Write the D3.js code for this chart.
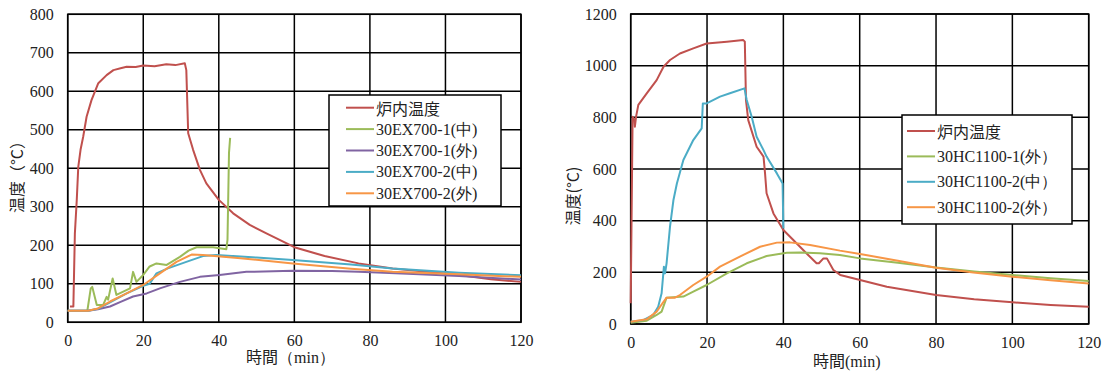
<!DOCTYPE html>
<html>
<head>
<meta charset="utf-8">
<script src="https://cdn.jsdelivr.net/npm/d3@7"></script>
<style>
  body { margin: 0; background: #fff; }
  svg { display: block; }
  svg text.num { font-family: "Times New Roman", "Liberation Serif", "DejaVu Serif", serif !important; }
  svg text.jp, svg tspan.jp { font-family: "Noto Sans CJK JP", sans-serif !important; }
  svg tspan.num { font-family: "Times New Roman", "Liberation Serif", serif !important; }
</style>
</head>
<body>
<svg id="chart" width="1105" height="373" viewBox="0 0 1105 373"></svg>
<script>
// ---- data: [minutes, °C] ----
const timeTicks = [0, 20, 40, 60, 80, 100, 120];
const leftTempTicks = [0, 100, 200, 300, 400, 500, 600, 700, 800];
const rightTempTicks = [0, 200, 400, 600, 800, 1000, 1200];

const ex700Furnace = [[0.6,41],[1.5,41],[1.9,231],[2.4,318],[2.8,404],[3.4,448],[4.1,482],[5,534],[6.3,577],
  [8.1,621],[10.3,642],[12.1,655],[14,660],[15.6,664],[18,663],[20,667],[23,665],[26.1,670],[28.5,668],[31,673],
  [31.4,655],[31.9,491],[33.2,448],[35,396],[36.7,361],[40,318],[43.8,283],[48.2,253],[52.6,231],[60,195],
  [68,172],[77,153],[86,140],[95,131],[103.6,123],[112,112],[120,105]];
const ex700_1Mid = [[0,30],[5.2,30],[6.1,88],[6.5,92],[7.7,45],[9.4,45],[10.3,66],[10.7,59],[11.9,114],[12.9,71],
  [16.5,88],[17.3,131],[18.2,105],[20,123],[21.7,145],[23.5,153],[26.2,149],[29.7,170],[32,186],[34.1,195],
  [38.5,195],[42,190],[42.3,214],[42.7,440],[43,479]];
const ex700_1Out = [[0,30],[5.4,30],[8,34],[11.2,41],[14,53],[17.3,67],[20.9,75],[24.4,88],[29.7,105],[35,118],
  [40.2,123],[47.3,131],[59.6,134],[70,133],[77,131],[90,126],[103.6,120],[120,111]];
const ex700_2Mid = [[0,30],[5.4,30],[8,35],[11.2,52],[15.6,75],[20,95],[21.7,100],[23.5,127],[26.5,140],
  [31.4,157],[35.8,172],[39.4,175],[50,168],[59.6,162],[75,150],[86,140],[103.6,129],[120,122]];
const ex700_2Out = [[0,30],[5.4,30],[8,36],[11.2,54],[15.6,75],[20,97],[24.4,127],[28.8,157],[32.8,176],
  [35.8,175],[45,167],[59.6,153],[75,139],[86,131],[103.6,125],[120,118]];

const hc1100Furnace = [[0,80],[0.5,802],[1,790],[1.1,764],[1.4,802],[2,848],[4.2,893],[6.8,944],[8.6,996],
  [10.3,1022],[12.9,1047],[16.4,1067],[19.9,1086],[25.2,1093],[29.5,1099],[29.9,1093],[30.2,867],[30.8,789],
  [33,686],[34.8,648],[35.2,583],[35.6,506],[37.4,428],[40,364],[42.6,325],[46.1,273],[48.7,235],[49.3,235],
  [50.5,254],[51.4,254],[53.1,209],[54.9,190],[60.1,170],[67.1,144],[80,112],[90,96],[100,84],[110,74],[120,67]];
const hc1100_1Out = [[0,5],[4.2,13],[6.8,35],[8.1,48],[9.4,102],[13.8,106],[16.4,125],[19.9,151],[25.2,196],
  [30.4,235],[35.6,263],[40.9,276],[44.4,277],[49.6,274],[54.8,267],[60.1,254],[70,237],[80,219],[90,203],
  [100,190],[110,177],[120,166]];
const hc1100_2Mid = [[0,9],[3.3,15],[5.9,35],[7.2,67],[8.1,119],[8.7,222],[9,196],[9.4,235],[10.3,377],[11.2,480],
  [12.1,544],[13.8,635],[16.4,712],[18.6,757],[18.9,854],[19.9,854],[23.4,880],[26,893],[29.8,912],[30.4,867],
  [31.7,802],[33,725],[34.8,673],[35.6,648],[38.3,583],[39.8,544],[40,370]];
const hc1100_2Out = [[0,9],[4.2,18],[6.8,48],[8.6,86],[9.4,102],[11.6,102],[12.9,112],[16.4,151],[19.9,183],
  [23.4,222],[28.6,261],[33.9,299],[38.3,315],[41.7,316],[47,306],[54.8,284],[60.1,271],[70,245],[80,218],
  [89.8,199],[100,183],[110,169],[120,157]];

const leftSeries = [
  { name: "炉内温度", color: "#C0504D", values: ex700Furnace },
  { name: "30EX700-1(中)", color: "#9BBB59", values: ex700_1Mid },
  { name: "30EX700-1(外)", color: "#8064A2", values: ex700_1Out },
  { name: "30EX700-2(中)", color: "#4BACC6", values: ex700_2Mid },
  { name: "30EX700-2(外)", color: "#F79646", values: ex700_2Out }
];
const rightSeries = [
  { name: "炉内温度", color: "#C0504D", values: hc1100Furnace },
  { name: "30HC1100-1(外）", color: "#9BBB59", values: hc1100_1Out },
  { name: "30HC1100-2(中）", color: "#4BACC6", values: hc1100_2Mid },
  { name: "30HC1100-2(外）", color: "#F79646", values: hc1100_2Out }
];

const svg = d3.select("#chart");

function drawChart(opt) {
  const x = d3.scaleLinear().domain([0, 120]).range([opt.left, opt.right]);
  const y = d3.scaleLinear().domain([0, opt.yMax]).range([opt.bottom, opt.top]);
  const g = svg.append("g");

  // tick labels
  g.append("g")
    .attr("transform", `translate(${opt.left},0)`)
    .call(d3.axisLeft(y).tickValues(opt.yTicks).tickFormat(d3.format("d")).tickSize(0).tickPadding(14))
    .call(a => a.select(".domain").remove())
    .call(a => a.selectAll("text").attr("class", "num").attr("font-size", 16).attr("fill", "#222"));
  g.append("g")
    .attr("transform", `translate(0,${opt.bottom})`)
    .call(d3.axisBottom(x).tickValues(timeTicks).tickFormat(d3.format("d")).tickSize(0).tickPadding(opt.xPad))
    .call(a => a.select(".domain").remove())
    .call(a => a.selectAll("text").attr("class", "num").attr("font-size", 16).attr("fill", "#222"));

  // grid lines
  const grid = g.append("g").attr("stroke", "black").attr("stroke-width", 1.5);
  grid.selectAll("line.h")
    .data(opt.yTicks)
    .join("line")
    .attr("class", "h")
    .attr("x1", opt.left).attr("x2", opt.right)
    .attr("y1", d => y(d)).attr("y2", d => y(d));
  grid.selectAll("line.v")
    .data(timeTicks)
    .join("line")
    .attr("class", "v")
    .attr("x1", d => x(d)).attr("x2", d => x(d))
    .attr("y1", opt.top).attr("y2", opt.bottom);
  g.append("rect")
    .attr("x", opt.left).attr("y", opt.top)
    .attr("width", opt.right - opt.left).attr("height", opt.bottom - opt.top)
    .attr("fill", "none").attr("stroke", "black").attr("stroke-width", 1.5);

  const line = d3.line().x(d => x(d[0])).y(d => y(d[1]));
  g.append("g").selectAll("path")
    .data(opt.series)
    .join("path")
    .attr("d", d => line(d.values))
    .attr("fill", "none")
    .attr("stroke", d => d.color)
    .attr("stroke-width", 2)
    .attr("stroke-linejoin", "round");

  // y title
  g.append("text")
    .attr("class", "jp")
    .attr("transform", `translate(${opt.yTitleX},${opt.yTitleY}) rotate(-90)`)
    .attr("text-anchor", "middle")
    .attr("dominant-baseline", "central")
    .attr("font-size", 16)
    .attr("fill", "#222")
    .text(opt.yTitle);

  // x title
  const xt = g.append("text")
    .attr("x", opt.xTitleX).attr("y", opt.xTitleY)
    .attr("font-size", 16).attr("fill", "#222");
  xt.append("tspan").attr("class", "jp").text("時間");
  xt.append("tspan").attr("class", "num").text(opt.xUnit);

  // legend
  const lg = g.append("g");
  lg.append("rect")
    .attr("x", opt.legend.x).attr("y", opt.legend.y)
    .attr("width", opt.legend.w).attr("height", opt.legend.h)
    .attr("fill", "#fff").attr("stroke", "black").attr("stroke-width", 1.5);
  const rows = lg.selectAll("g.row")
    .data(opt.series)
    .join("g")
    .attr("class", "row")
    .attr("transform", (d, i) => `translate(${opt.legend.x},${opt.legend.y + opt.legend.y0 + i * opt.legend.step})`);
  rows.append("line")
    .attr("x1", opt.legend.l1).attr("x2", opt.legend.l2)
    .attr("stroke", d => d.color).attr("stroke-width", 2);
  rows.append("text")
    .attr("class", (d, i) => i === 0 ? "jp" : "num")
    .attr("x", opt.legend.l2 + 2)
    .attr("dominant-baseline", "central")
    .attr("font-size", 16)
    .attr("fill", "#222")
    .text(d => d.name);
}

drawChart({
  left: 67.7, right: 521, top: 14.3, bottom: 322.3, xPad: 12,
  yMax: 800, yTicks: leftTempTicks, series: leftSeries,
  yTitle: "温度（°C）", yTitleX: 16, yTitleY: 173,
  xTitleX: 246, xTitleY: 363, xUnit: "（min）",
  legend: { x: 329, y: 95, w: 172, h: 111, y0: 12.7, step: 21.4, l1: 17, l2: 45 }
});

drawChart({
  left: 630.7, right: 1088.7, top: 14, bottom: 324, xPad: 13,
  yMax: 1200, yTicks: rightTempTicks, series: rightSeries,
  yTitle: "温度(°C)", yTitleX: 572, yTitleY: 196,
  xTitleX: 813, xTitleY: 367, xUnit: "(min)",
  legend: { x: 902, y: 115, w: 170, h: 109, y0: 16, step: 25.4, l1: 5, l2: 33 }
});
</script>
</body>
</html>
